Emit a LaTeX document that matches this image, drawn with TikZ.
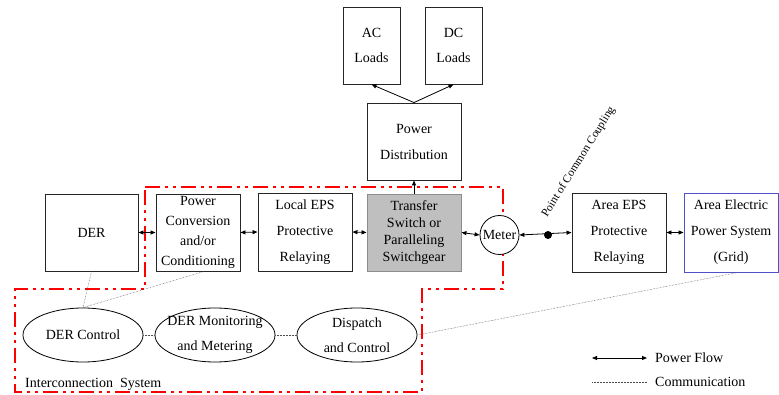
\documentclass[tikz,border=0pt]{standalone}
\usepackage{fontspec}
\setmainfont{Liberation Serif}
\usetikzlibrary{arrows.meta,shapes.geometric,calc}

\tikzset{
  blk/.style={draw=black!85, line width=0.9pt, fill=white, inner sep=0pt, align=center,
              font=\fontsize{14}{26}\selectfont},
  oval/.style={ellipse, draw=black, line width=0.8pt, fill=white, inner ysep=0pt, inner xsep=-6pt,
               align=center, minimum width=120pt, minimum height=54pt, font=\fontsize{14}{25}\selectfont},
  pf/.style={line width=0.8pt, {Triangle[length=5pt,width=4pt]}-{Triangle[length=5pt,width=4pt]}},
  pfone/.style={line width=0.8pt, -{Triangle[length=5pt,width=4pt]}},
  comm/.style={densely dotted, line width=0.5pt, black!70},
  isys/.style={red, line width=2.5pt, dash pattern=on 15pt off 5pt on 3pt off 5pt on 3pt off 5pt}
}

\begin{document}
\begin{tikzpicture}[x=1pt, y=-1pt]
\useasboundingbox (0,0) rectangle (779,395);

% interconnection system boundary
\draw[isys] (145,187) -- (503,187) -- (503,289) -- (422,289) -- (422,392)
  -- (15,392) -- (15,289) -- (145,289) -- cycle;

% loads and distribution
\node[blk, minimum width=57pt, minimum height=77pt, font=\fontsize{14}{25}\selectfont] (ac) at (371.5,45.5) {AC\\Loads};
\node[blk, minimum width=57pt, minimum height=77pt, font=\fontsize{14}{25}\selectfont] (dc) at (453.5,45.5) {DC\\Loads};
\node[blk, minimum width=94pt, minimum height=77pt] (pd) at (414,141.5) {Power\\Distribution};

% main power path
\node[blk, minimum width=93pt, minimum height=77pt] (der) at (91.5,232.5) {DER};
\node[blk, minimum width=84pt, minimum height=77pt, font=\fontsize{14}{20}\selectfont] (pc) at (198,232.5) {Power\\Conversion\\and/or\\Conditioning};
\node[blk, minimum width=94pt, minimum height=78pt] (leps) at (305,232) {Local EPS\\Protective\\Relaying};
\node[blk, minimum width=94pt, minimum height=77pt, fill=black!25, draw=black!45,
      font=\fontsize{14}{17}\selectfont] (ts) at (414,232.5) {Transfer\\Switch or\\Paralleling\\Switchgear};
\node[circle, draw=black, line width=0.8pt, fill=white, inner sep=0pt, minimum size=39pt,
      font=\fontsize{14}{16}\selectfont] (meter) at (499.5,235) {Meter};
\node[blk, minimum width=94pt, minimum height=79pt] (aeps) at (619,232.5) {Area EPS\\Protective\\Relaying};
\node[blk, minimum width=94pt, minimum height=79pt, draw={rgb,255:red,80;green,80;blue,200}] (grid) at (731,232.5) {Area Electric\\Power System\\(Grid)};

% point of common coupling
\draw[pf] (meter.east) -- (aeps.west);
\node[circle, fill=black, inner sep=0pt, minimum size=8pt] (pcc) at (548,235) {};
\node[anchor=base west, rotate=58, inner sep=0pt, font=\fontsize{11.5}{13}\selectfont] (pcclbl) at (547,218) {Point of Common Coupling};

% power flow
\draw[pf] (der.east) -- (pc.west);
\draw[pf] (pc.east) -- (leps.west);
\draw[pf] (leps.east) -- (ts.west);
\draw[pf] (ts.east) -- (meter.west);
\draw[pf] (aeps.east) -- (grid.west);
\draw[pfone] (ts.north) -- (pd.south);
\draw[pfone] (pd.north) -- (ac.south);
\draw[pfone] (pd.north) -- (dc.south);

% control and monitoring
\node[oval] (derc) at (83,335) {DER Control};
\node[oval] (derm) at (215,335) {DER Monitoring\\and Metering};
\node[oval] (disp) at (357,335) {Dispatch\\and Control};

% communication
\draw[comm] (der.south) -- (derc.north);
\draw[comm] ($(pc.south)+(6,0)$) -- (derc.north);
\draw[comm] (derc.east) -- (derm.west);
\draw[comm] (derm.east) -- (disp.west);
\draw[comm] (disp.east) -- ($(grid.south)+(7,0)$);

\node[anchor=base west, inner sep=0pt, font=\fontsize{14}{16}\selectfont] (islbl) at (25,387) {Interconnection\ \ System};

% legend
\coordinate (lpa) at (592,358);
\coordinate (lpb) at (647,358);
\coordinate (lca) at (592,382);
\coordinate (lcb) at (647,382);
\draw[pf] (lpa) -- (lpb);
\draw[comm] (lca) -- (lcb);
\node[anchor=west, inner sep=0pt, font=\fontsize{14}{16}\selectfont] (lpt) at (655,358) {Power Flow};
\node[anchor=west, inner sep=0pt, font=\fontsize{14}{16}\selectfont] (lct) at (655,382) {Communication};
\end{tikzpicture}
\end{document}
